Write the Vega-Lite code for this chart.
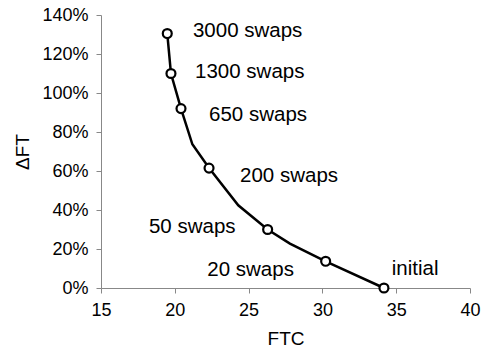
{
  "$schema": "https://vega.github.io/schema/vega-lite/v6.json",
  "width": 369,
  "height": 273,
  "autosize": "none",
  "padding": {"left": 101, "top": 15, "right": 12, "bottom": 64},
  "background": "white",
  "config": {
    "view": {"stroke": null},
    "font": "Liberation Sans",
    "axis": {
      "grid": false,
      "domainColor": "#888888",
      "tickColor": "#888888",
      "tickSize": 5,
      "labelFont": "Liberation Sans",
      "titleFont": "Liberation Sans",
      "labelFontSize": 18,
      "titleFontSize": 19,
      "labelColor": "#000000",
      "titleColor": "#000000",
      "titleFontWeight": "normal"
    }
  },
  "datasets": {
    "curve": [
      {"ftc": 19.49, "dft": 1.305, "order": 1, "marker": true},
      {"ftc": 19.74, "dft": 1.10, "order": 2, "marker": true},
      {"ftc": 20.42, "dft": 0.92, "order": 3, "marker": true},
      {"ftc": 21.19, "dft": 0.737, "order": 4, "marker": false},
      {"ftc": 22.32, "dft": 0.615, "order": 5, "marker": true},
      {"ftc": 24.3, "dft": 0.424, "order": 6, "marker": false},
      {"ftc": 26.29, "dft": 0.30, "order": 7, "marker": true},
      {"ftc": 27.8, "dft": 0.228, "order": 8, "marker": false},
      {"ftc": 30.22, "dft": 0.137, "order": 9, "marker": true},
      {"ftc": 34.17, "dft": 0.0, "order": 10, "marker": true}
    ],
    "labels": [
      {"label": "3000 swaps", "ftc": 21.23, "dft": 1.32},
      {"label": "1300 swaps", "ftc": 21.37, "dft": 1.11},
      {"label": "650 swaps", "ftc": 22.32, "dft": 0.886},
      {"label": "200 swaps", "ftc": 24.42, "dft": 0.573},
      {"label": "50 swaps", "ftc": 18.25, "dft": 0.313},
      {"label": "20 swaps", "ftc": 22.2, "dft": 0.091},
      {"label": "initial", "ftc": 34.7, "dft": 0.099}
    ]
  },
  "encoding": {
    "x": {"field": "ftc", "type": "quantitative", "title": "FTC",
          "scale": {"domain": [15, 40], "nice": false},
          "axis": {"values": [15, 20, 25, 30, 35, 40], "labelOverlap": false, "labelFlush": false, "labelPadding": 8, "titlePadding": 10}},
    "y": {"field": "dft", "type": "quantitative", "title": "ΔFT",
          "scale": {"domain": [0, 1.4], "nice": false},
          "axis": {"values": [0, 0.2, 0.4, 0.6, 0.8, 1.0, 1.2, 1.4], "tickCount": 8, "format": ".0%", "labelOverlap": false, "labelFlush": false, "labelPadding": 8, "titlePadding": 9}}
  },
  "layer": [
    {
      "data": {"name": "curve"},
      "mark": {"type": "line", "color": "#000000", "strokeWidth": 2.5},
      "encoding": {
        "order": {"field": "order", "type": "quantitative"}
      }
    },
    {
      "data": {"name": "curve"},
      "transform": [{"filter": "datum.marker"}],
      "mark": {"type": "point", "shape": "circle", "filled": true, "fill": "white", "stroke": "#000000", "strokeWidth": 2.2, "size": 80, "opacity": 1},
      "encoding": {}
    },
    {
      "data": {"name": "labels"},
      "mark": {"type": "text", "align": "left", "baseline": "middle", "fontSize": 20.5, "font": "Liberation Sans", "color": "#000000"},
      "encoding": {
        "text": {"field": "label"}
      }
    }
  ]
}
